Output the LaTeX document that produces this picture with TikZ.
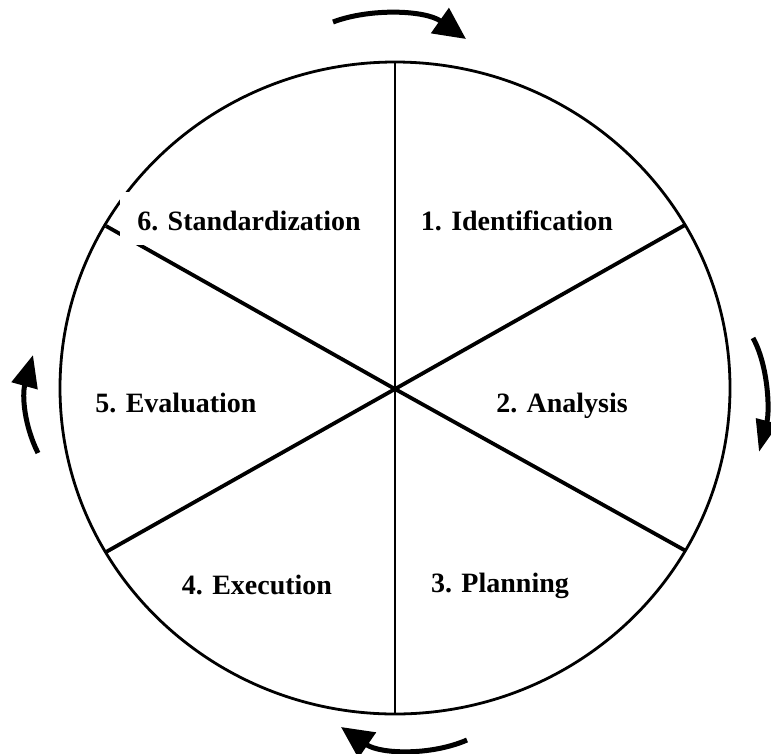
\documentclass[tikz,border=0pt]{standalone}
\usepackage{fontspec}
\setmainfont{Liberation Serif}
\usetikzlibrary{arrows.meta}
\begin{document}
\begin{tikzpicture}[x=1pt,y=-1pt,
  rim/.style={line width=2.8pt},
  spoke/.style={line width=3.8pt},
  divider/.style={line width=1.2pt},
  turn/.style={line width=5pt,-{Triangle[length=32pt,width=30pt]}},
  lbl/.style={font=\fontsize{28}{32}\selectfont\bfseries,anchor=base,inner sep=0pt}]
\useasboundingbox (0,0) rectangle (771,753);
\coordinate (c) at (395,389);
\coordinate (top) at (395,62);
\coordinate (bot) at (395,714);
\coordinate (tr) at (685,225);
\coordinate (br) at (686,551);
\coordinate (bl) at (106,552);
\coordinate (tl) at (106,226);
\draw[rim] (395,388) ellipse [x radius=335pt, y radius=326pt];
\draw[divider] (top) -- (bot);
\draw[spoke] (c) -- (tr);
\draw[spoke] (c) -- (br);
\draw[spoke] (c) -- (bl);
\draw[spoke] (c) -- (tl);
% white box behind label 6
\fill[white] (120,192) rectangle (384,245);
% labels
\node[lbl] (l1) at (517,230) {1. Identification};
\node[lbl] (l2) at (562,412) {2. Analysis};
\node[lbl] (l3) at (500,592) {3. Planning};
\node[lbl] (l4) at (257,594) {4. Execution};
\node[lbl] (l5) at (176,412) {5. Evaluation};
\node[lbl] (l6) at (249,230) {6. Standardization};
% rotation arrows
\coordinate (a1s) at (333,22);
\coordinate (a1e) at (466,39);
\coordinate (a2s) at (753,338);
\coordinate (a2e) at (759,452);
\coordinate (a3s) at (467,740);
\coordinate (a3e) at (341,727);
\coordinate (a4s) at (38,453);
\coordinate (a4e) at (33,355);
\draw[turn] (a1s) .. controls (370,8) and (425,10) .. (a1e);
\draw[turn,-{Triangle[length=32pt,width=22pt]}] (a2s) .. controls (768,365) and (770,410) .. (a2e);
\draw[turn] (a3s) .. controls (430,756) and (380,754) .. (a3e);
\draw[turn,-{Triangle[length=32pt,width=26pt]}] (a4s) .. controls (24,425) and (22,395) .. (a4e);
\end{tikzpicture}
\end{document}
